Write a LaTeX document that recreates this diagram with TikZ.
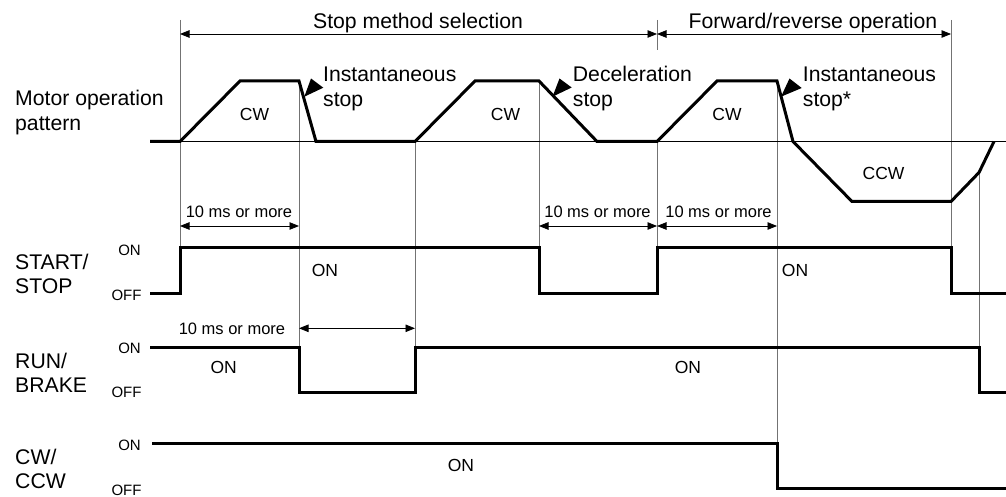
\documentclass[tikz,border=0pt]{standalone}
\usepackage{fontspec}
\setmainfont{Liberation Sans}
\usetikzlibrary{arrows.meta}
\newcommand{\stopmark}[3]{\fill (#1) -- (#2) -- (#3) -- cycle;}
\tikzset{sigline/.style={line width=3pt, line join=miter},
  guideline/.style={black!55, line width=0.9pt},
  dimarrow/.style={{Triangle[length=9.5pt,width=7.5pt]}-{Triangle[length=9.5pt,width=7.5pt]}, line width=0.8pt},
  rowlabel/.style={font=\fontsize{21.2}{24.5}\selectfont, inner sep=0pt, align=left, anchor=base west},
  tagtext/.style={font=\fontsize{17.5}{20}\selectfont, inner sep=0pt},
  mstext/.style={font=\fontsize{16.5}{18}\selectfont, inner sep=0pt},
  lvltext/.style={font=\fontsize{15}{16}\selectfont, inner sep=0pt}}

\begin{document}
\begin{tikzpicture}[x=1pt, y=-1pt]
\useasboundingbox (0,0) rectangle (1006,497);
% time guides
\draw[guideline] (180,20) -- (180,247.5);
\draw[guideline] (299,81) -- (299,347);
\draw[guideline] (415,141.5) -- (415,347);
\draw[guideline] (539,81) -- (539,247.5);
\draw[guideline] (657,20) -- (657,50) (657,141.5) -- (657,247.5);
\draw[guideline] (777,81) -- (777,443);
\draw[guideline] (951,20) -- (951,247.5);
\draw[guideline] (979,172.5) -- (979,347);
\draw[line width=0.9pt] (150,141.5) -- (1006,141.5);
% spans
\coordinate (s0) at (180,34);
\coordinate (s1) at (657,34);
\coordinate (s2) at (951,34);
\draw[dimarrow] (s0) -- (s1);
\draw[dimarrow] (s1) -- (s2);
\node[rowlabel, anchor=base] (stopsel) at (418,28.3) {Stop method selection};
\node[rowlabel, anchor=base] (fwdrev) at (813,28.3) {Forward/reverse operation};
% motor
\node[rowlabel] (motor) at (15,130.5) {Motor operation\\pattern};
\draw[sigline] (150,141.5) -- (180,141.5) -- (240,81) -- (299,81) -- (316,141.5) -- (415,141.5)
  -- (475,81) -- (539,81) -- (597,141.5) -- (657,141.5) -- (717,81) -- (777,81) -- (793,141.5)
  -- (852,201.5) -- (951,201.5) -- (979,172.5) -- (994,141.5);
\node[tagtext] (cw1) at (254.5,114) {CW};
\node[tagtext] (cw2) at (505.5,114) {CW};
\node[tagtext] (cw3) at (727,114) {CW};
\node[tagtext] (ccw) at (883.5,173) {CCW};
\stopmark{304.3,96.7}{311,78.5}{323.3,87.7}
\stopmark{552.5,96.7}{559.5,78.5}{571.7,87.5}
\stopmark{781,96.7}{789.5,78.5}{801.7,88}
\node[rowlabel] (inst1) at (323,106.5) {Instantaneous\\stop};
\node[rowlabel] (decel) at (572.7,106.5) {Deceleration\\stop};
\node[rowlabel] (inst2) at (802.7,106.5) {Instantaneous\\stop*};
% 10 ms spans
\coordinate (m0) at (180,226);
\coordinate (m1) at (299,226);
\coordinate (m2) at (539,226);
\coordinate (m3) at (657,226);
\coordinate (m4) at (777,226);
\coordinate (r0) at (299,328.3);
\coordinate (r1) at (415,328.3);
\draw[dimarrow] (m0) -- (m1);
\draw[dimarrow] (m2) -- (m3);
\draw[dimarrow] (m3) -- (m4);
\draw[dimarrow] (r0) -- (r1);
\node[mstext] (ms1) at (239,212) {10 ms or more};
\node[mstext] (ms2) at (597.5,212) {10 ms or more};
\node[mstext] (ms3) at (718.5,212) {10 ms or more};
\node[mstext] (ms4) at (232,329) {10 ms or more};
% START/STOP
\node[rowlabel] (start) at (15,293.5) {START/\\STOP};
\node[lvltext] (starton) at (129.5,250) {ON};
\node[lvltext] (startoff) at (126.5,295) {OFF};
\draw[sigline] (150,293) -- (180,293) -- (180,247.5) -- (539,247.5) -- (539,293) -- (657,293)
  -- (657,247.5) -- (951,247.5) -- (951,293) -- (1006,293);
\node[tagtext] (starton1) at (325,270) {ON};
\node[tagtext] (starton2) at (795,270) {ON};
% RUN/BRAKE
\node[rowlabel] (run) at (15,392.5) {RUN/\\BRAKE};
\node[lvltext] (runon) at (129.5,348) {ON};
\node[lvltext] (runoff) at (126.5,392.5) {OFF};
\draw[sigline] (150,347) -- (299,347) -- (299,392) -- (415,392) -- (415,347) -- (979,347)
  -- (979,392) -- (1006,392);
\node[tagtext] (runon1) at (223.7,367) {ON};
\node[tagtext] (runon2) at (688,367) {ON};
% CW/CCW
\node[rowlabel] (dir) at (15,488.5) {CW/\\CCW};
\node[lvltext] (diron) at (129.5,445) {ON};
\node[lvltext] (diroff) at (126.5,490) {OFF};
\draw[sigline] (152,443) -- (777,443) -- (777,488) -- (1006,488);
\node[tagtext] (diron1) at (461,465.5) {ON};
\end{tikzpicture}
\end{document}
